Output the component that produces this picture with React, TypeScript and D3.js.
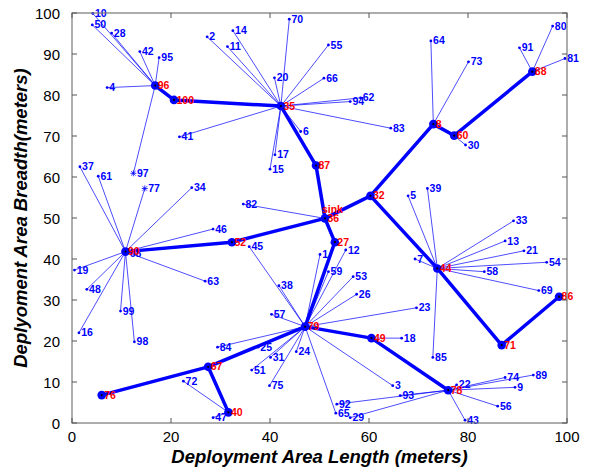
import React from "react";
import * as d3 from "d3";

// node id -> position (meters) and the cluster head it reports to (0 = cluster head)
const nodeIds = d3.range(1, 101);
const nodeX = [50.1, 27.3, 64.8, 7.1, 67.9, 46.2, 69.3, 73.0, 89.5, 4.2,
  31.4, 55.3, 87.5, 32.5, 40.0, 1.4, 41.0, 66.6, 0.5, 40.9,
  91.3, 77.7, 69.6, 45.3, 37.6, 57.5, 53.1, 8.0, 56.2, 79.5,
  40.1, 60.3, 89.2, 24.2, 42.2, 51.1, 1.6, 41.8, 71.8, 31.6,
  21.7, 13.7, 79.4, 73.8, 35.8, 28.5, 28.5, 3.0, 60.5, 4.1,
  36.3, 32.3, 56.8, 95.9, 51.8, 86.0, 40.3, 83.3, 51.8, 77.2,
  5.3, 58.3, 26.9, 72.5, 53.3, 50.9, 27.5, 11.2, 94.3, 43.9,
  86.8, 22.5, 80.1, 87.5, 39.9, 6.0, 14.7, 76.0, 47.1, 97.1,
  99.6, 34.6, 64.4, 29.4, 72.9, 98.4, 49.3, 93.0, 93.2, 10.8,
  90.4, 53.5, 66.3, 56.2, 17.6, 16.8, 12.4, 12.6, 9.8, 20.6];
const nodeY = [41.1, 94.2, 9.1, 81.8, 55.4, 71.1, 40.0, 72.9, 8.7, 99.9,
  91.8, 42.2, 44.4, 95.7, 61.9, 22.0, 65.4, 20.7, 37.3, 84.2,
  42.0, 9.3, 28.1, 17.4, 18.5, 31.4, 44.1, 95.1, 1.3, 67.8,
  16.0, 55.4, 49.3, 57.4, 77.3, 49.9, 62.5, 33.5, 57.2, 2.6,
  69.8, 90.6, 0.7, 37.7, 43.0, 47.3, 1.3, 32.6, 20.7, 97.1,
  12.9, 44.1, 35.7, 39.2, 92.2, 4.1, 26.5, 36.9, 36.9, 70.1,
  60.2, 79.3, 34.6, 93.2, 2.4, 84.1, 13.7, 41.4, 32.3, 98.5,
  19.0, 10.2, 88.1, 11.1, 9.1, 6.8, 57.2, 8.0, 23.5, 96.8,
  88.9, 53.4, 71.9, 18.5, 16.0, 30.8, 62.8, 85.7, 11.7, 41.8,
  91.5, 4.6, 6.7, 78.4, 89.1, 82.3, 60.9, 19.8, 27.3, 78.8];
const nodeHead = [79, 35, 79, 96, 44, 35, 44, 0, 78, 96,
  35, 79, 44, 35, 35, 90, 35, 49, 90, 35,
  44, 78, 79, 79, 79, 79, 0, 96, 78, 60,
  79, 0, 44, 90, 0, 0, 90, 79, 44, 0,
  35, 96, 78, 0, 79, 90, 40, 90, 0, 96,
  79, 0, 79, 44, 35, 78, 79, 44, 79, 0,
  90, 35, 90, 8, 79, 35, 0, 90, 44, 35,
  0, 40, 8, 78, 79, 0, 90, 0, 0, 88,
  88, 36, 35, 79, 44, 0, 0, 0, 78, 0,
  88, 78, 78, 35, 96, 0, 96, 90, 90, 0];
const starNodes = [77, 97];
const sinkNode = 36;

// multi-hop routes between cluster heads
const routeFrom = [96, 100, 35, 87, 88, 60, 8, 32, 90, 52, 27, 79, 76, 67, 40, 49, 78, 86, 71, 44];
const routeTo = [100, 35, 87, 36, 60, 8, 32, 36, 52, 36, 36, 27, 67, 79, 67, 79, 49, 71, 44, 32];

const xTicks = [0, 20, 40, 60, 80, 100];
const yTicks = [0, 10, 20, 30, 40, 50, 60, 70, 80, 90, 100];

const W = 590, H = 470;
const L = 72, T = 13, R = 567, B = 423;

export default function App() {
  const x = d3.scaleLinear().domain([0, 100]).range([L, R]);
  const y = d3.scaleLinear().domain([0, 100]).range([B, T]);
  const idx = (id: number) => id - 1;
  const px = (id: number) => x(nodeX[idx(id)]);
  const py = (id: number) => y(nodeY[idx(id)]);
  const line = d3.line<number>().x(px).y(py);
  const labelFont = "'Liberation Sans Narrow', 'Arial Narrow', 'Liberation Sans', sans-serif";
  const axisFont = "'Liberation Sans', Arial, sans-serif";
  const blue = "#0000ff";

  return (
    <svg width={W} height={H} style={{ position: "absolute", left: 0, top: 0, background: "#fff" }}>
      <rect x={0} y={0} width={W} height={H} fill="#fff" />
      {/* member links */}
      {nodeIds.filter((id) => nodeHead[idx(id)] > 0).map((id) => (
        <path key={"m" + id} d={line([id, nodeHead[idx(id)]]) || ""} stroke={blue} strokeWidth={0.7} fill="none" />
      ))}
      {/* routes */}
      {routeFrom.map((f, i) => (
        <path key={"r" + i} d={line([f, routeTo[i]]) || ""} stroke={blue} strokeWidth={3.5} fill="none" strokeLinecap="round" />
      ))}
      {/* member nodes */}
      {nodeIds.filter((id) => nodeHead[idx(id)] > 0).map((id) => {
        const cx = px(id), cy = py(id);
        const star = starNodes.includes(id);
        return (
          <g key={"n" + id}>
            {star ? (
              <g stroke={blue} strokeWidth={0.8}>
                <line x1={cx - 3} x2={cx + 3} y1={cy} y2={cy} />
                <line x1={cx} x2={cx} y1={cy - 3} y2={cy + 3} />
                <line x1={cx - 2.2} x2={cx + 2.2} y1={cy - 2.2} y2={cy + 2.2} />
                <line x1={cx - 2.2} x2={cx + 2.2} y1={cy + 2.2} y2={cy - 2.2} />
              </g>
            ) : (
              <circle cx={cx} cy={cy} r={1.4} fill={blue} />
            )}
            <text x={cx + (star ? 3.5 : 2.2)} y={cy + 3.6} fontFamily={labelFont} fontWeight="bold" fontSize={10.5} fill={blue}>
              {id}
            </text>
          </g>
        );
      })}
      {/* cluster heads */}
      {nodeIds.filter((id) => nodeHead[idx(id)] === 0).map((id) => {
        const cx = px(id), cy = py(id);
        return (
          <g key={"c" + id}>
            <circle cx={cx} cy={cy} r={4.3} fill={blue} />
            <circle cx={cx} cy={cy} r={1.1} fill="#000" />
            <text x={cx + 2.5} y={cy + 3.6} fontFamily={labelFont} fontWeight="bold" fontSize={10.5} fill="#ff0000">
              {id}
            </text>
            {id === sinkNode && (
              <text x={cx - 3} y={cy - 5} fontFamily={labelFont} fontWeight="bold" fontSize={10.5} fill="#ff0000">
                sink
              </text>
            )}
          </g>
        );
      })}
      {/* axes box */}
      <rect x={L} y={T} width={R - L} height={B - T} fill="none" stroke="#777" strokeWidth={1.2} />
      {xTicks.map((t) => (
        <g key={"xt" + t}>
          <line x1={x(t)} x2={x(t)} y1={B} y2={B - 5} stroke="#555" />
          <line x1={x(t)} x2={x(t)} y1={T} y2={T + 5} stroke="#555" />
          <text x={x(t)} y={B + 19} textAnchor="middle" fontFamily={axisFont} fontSize={15} fill="#000">{t}</text>
        </g>
      ))}
      {yTicks.map((t) => (
        <g key={"yt" + t}>
          <line x1={L} x2={L + 5} y1={y(t)} y2={y(t)} stroke="#555" />
          <line x1={R} x2={R - 5} y1={y(t)} y2={y(t)} stroke="#555" />
          <text x={L - 12} y={y(t) + 5.5} textAnchor="end" fontFamily={axisFont} fontSize={15} fill="#000">{t}</text>
        </g>
      ))}
      <text x={(L + R) / 2} y={463} textAnchor="middle" fontFamily={axisFont} fontSize={18.5} fontWeight="bold" fontStyle="italic" fill="#000">
        Deployment Area Length (meters)
      </text>
      <text transform={`translate(27,${(T + B) / 2}) rotate(-90)`} textAnchor="middle" fontFamily={axisFont} fontSize={18.5} fontWeight="bold" fontStyle="italic" fill="#000">
        Deplyoment Area Breadth(meters)
      </text>
    </svg>
  );
}
